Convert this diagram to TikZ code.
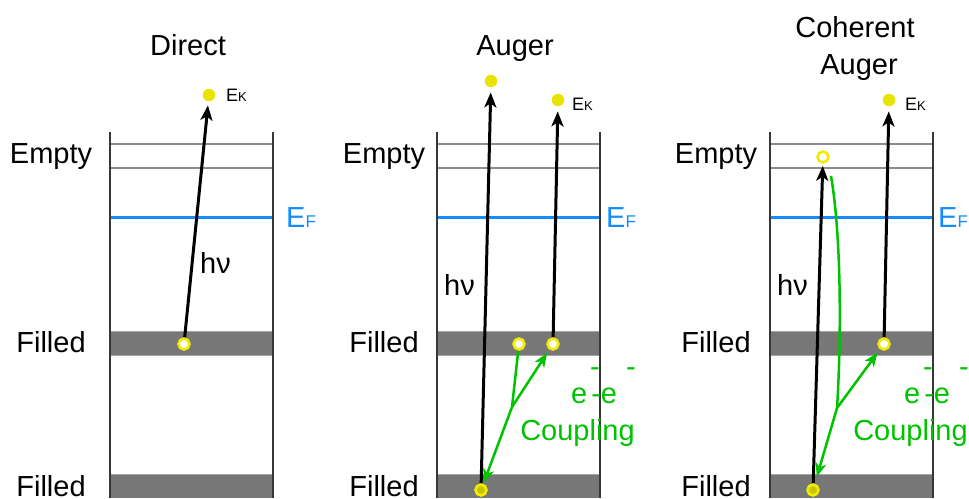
\documentclass[tikz,border=0pt]{standalone}
\usepackage{fontspec}
\setmainfont{Liberation Sans}
\usetikzlibrary{arrows.meta}
\definecolor{efblue}{RGB}{20,140,255}
\definecolor{cgreen}{RGB}{0,195,0}
\definecolor{dotyellow}{RGB}{232,228,0}
\definecolor{ringyellow}{RGB}{240,236,0}
\definecolor{deepyellow}{RGB}{200,196,0}
\definecolor{bandgray}{RGB}{119,119,119}
\definecolor{edgegray}{RGB}{165,165,165}
\definecolor{linegray}{RGB}{140,140,140}
\definecolor{wallgray}{RGB}{55,55,55}
\tikzset{
  lbl/.style={font=\fontsize{29}{34}\selectfont, inner sep=0pt, anchor=base},
  coup/.style={lbl, text=cgreen},
  wall/.style={draw=wallgray, line width=1.3pt},
  emptyline/.style={draw=linegray, line width=1.4pt},
  efline/.style={draw=efblue, line width=3pt},
  hole/.style={circle, draw=ringyellow, line width=2.6pt, fill=white, minimum size=11pt, inner sep=0pt},
  deephole/.style={hole, fill=deepyellow},
  electron/.style={circle, fill=dotyellow, minimum size=12.5pt, inner sep=0pt},
  excite/.style={draw=black, line width=3pt, -{Stealth[length=15pt,width=12pt,inset=4pt]}},
  relax/.style={draw=cgreen, line width=2.5pt, -{Stealth[length=14pt,width=11pt,inset=4pt]}},
  ksub/.style={inner sep=0pt, anchor=base west},
}
\begin{document}
\begin{tikzpicture}[x=1pt,y=-1pt]
\useasboundingbox (0,0) rectangle (969,498);

% three band diagrams
\foreach \L in {110,437,770}{
  \fill[bandgray] (\L,331) rectangle ({\L+163},355);
  \draw[edgegray, line width=1pt] (\L,331) -- ++(163,0) (\L,355) -- ++(163,0);
  \fill[bandgray] (\L,474) rectangle ({\L+163},498);
  \draw[edgegray, line width=1pt] (\L,474) -- ++(163,0);
  \draw[emptyline] (\L,144) -- ++(163,0) (\L,168) -- ++(163,0);
  \draw[efline] (\L,217) -- ++(163,0);
  \draw[wall] (\L,132) -- (\L,498) ({\L+163},132) -- ({\L+163},498);
}

% titles
\node[lbl] (t1) at (188,55) {Direct};
\node[lbl] (t2) at (515,55) {Auger};
\node[lbl] (t3a) at (855,37) {Coherent};
\node[lbl] (t3b) at (859,74) {Auger};

% band labels
\foreach \c/\n in {51/1,384/2,716/3}{
  \node[lbl] (empty\n) at (\c,163) {Empty};
  \node[lbl] (filledA\n) at (\c,352) {Filled};
  \node[lbl] (filledB\n) at (\c,496) {Filled};
}

% Fermi level labels
\foreach \x/\n in {286/1,606/2,938/3}{
  \node[ksub, text=efblue] (ef\n) at (\x,227)
    {\fontsize{29}{32}\selectfont E\fontsize{17}{18}\selectfont F};
}

% ---- Direct ----
\node[hole] (h1) at (184,344) {};
\node[electron] (d1) at (209,95) {};
\node[ksub] (ek1) at (226,101) {\fontsize{18}{20}\selectfont E\fontsize{13}{14}\selectfont K};
\draw[excite, shorten >=4pt] (h1) -- (d1);
\node[lbl, anchor=base west] (hv1) at (200,273) {hν};

% ---- Auger ----
\node[deephole] (hb2) at (481,490) {};
\node[hole] (ha2) at (519,344) {};
\node[hole] (hc2) at (553,344) {};
\node[electron] (d2a) at (491,81) {};
\node[electron] (d2b) at (558,100) {};
\node[ksub] (ek2) at (572,110) {\fontsize{18}{20}\selectfont E\fontsize{13}{14}\selectfont K};
\draw[excite, shorten >=5pt] (hb2) -- (d2a);
\draw[excite, shorten >=5pt] (hc2) -- (d2b);
\node[lbl, anchor=base west] (hv2) at (444,295) {hν};
\coordinate (br2) at (512,407);
\draw[relax, shorten >=1pt] (ha2) -- (br2) -- (hb2);
\draw[relax, shorten >=4pt] (br2) -- (hc2);
\node[coup] (m2a) at (595,376) {-};
\node[coup] (m2b) at (631,376) {-};
\node[coup, anchor=base west] (ee2) at (571,403) {e\hspace{4pt}-e};
\node[coup] (cp2) at (577.5,440) {Coupling};

% ---- Coherent Auger ----
\node[deephole] (hb3) at (813,490) {};
\node[hole] (he3) at (823,157) {};
\node[hole] (hc3) at (884,344) {};
\node[electron] (d3) at (889,100) {};
\node[ksub] (ek3) at (905,110) {\fontsize{18}{20}\selectfont E\fontsize{13}{14}\selectfont K};
\draw[excite, shorten >=2pt] (hb3) -- (he3);
\draw[excite, shorten >=5pt] (hc3) -- (d3);
\node[lbl, anchor=base west] (hv3) at (777,295) {hν};
\coordinate (g3) at (831,176);
\coordinate (br3) at (837,408);
\draw[relax, shorten >=7pt] (g3) .. controls (842,240) and (841,345) .. (br3) -- (hb3);
\draw[relax, shorten >=4pt] (br3) -- (hc3);
\node[coup] (m3a) at (928,376) {-};
\node[coup] (m3b) at (964,376) {-};
\node[coup, anchor=base west] (ee3) at (904,403) {e\hspace{4pt}-e};
\node[coup] (cp3) at (910.5,440) {Coupling};
\end{tikzpicture}
\end{document}
